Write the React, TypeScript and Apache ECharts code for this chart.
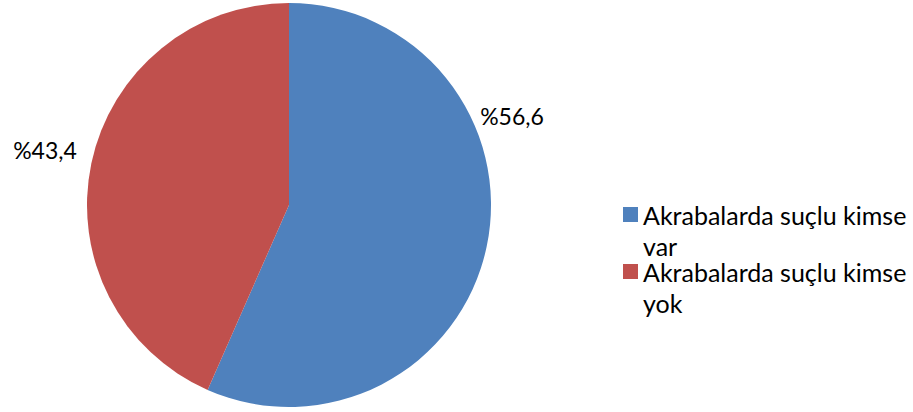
import React, { useEffect, useRef } from "react";
import * as echarts from "echarts";

const categories = ["Akrabalarda suçlu kimse var", "Akrabalarda suçlu kimse yok"];
const values = [56.6, 43.4];
const labelTexts = ["%56,6", "%43,4"];
const colors = ["#4F81BD", "#C0504D"];
const labelPos = [
  { x: 512, y: 116 },
  { x: 45, y: 150 },
];

export default function App() {
  const ref = useRef<HTMLDivElement>(null);
  useEffect(() => {
    document.body.style.margin = "0";
    const chart = echarts.init(ref.current!, null, { renderer: "svg" });
    const font = "Lato, 'Noto Sans', sans-serif";
    const lineStyle = { fontFamily: font, fontSize: 25, color: "#000", lineHeight: 31 };
    chart.setOption({
      animation: false,
      color: colors,
      legend: {
        orient: "vertical",
        left: 623,
        top: 168,
        padding: 0,
        itemWidth: 15,
        itemHeight: 15,
        itemGap: -36,
        icon: "rect",
        data: categories,
        formatter: (name: string) => {
          const i = name.lastIndexOf(" ");
          return "{e| }\n{a|" + name.slice(0, i) + "}\n{a|" + name.slice(i + 1) + "}";
        },
        textStyle: {
          ...lineStyle,
          rich: { e: { ...lineStyle }, a: { ...lineStyle } },
        },
      },
      series: [
        {
          type: "pie",
          center: [289, 205],
          radius: 202,
          startAngle: 90,
          clockwise: true,
          data: categories.map((c, i) => ({ name: c, value: values[i] })),
          label: {
            show: true,
            position: "outside",
            overflow: "none",
            width: 200,
            formatter: (p: any) => labelTexts[p.dataIndex],
            fontFamily: font,
            fontSize: 23,
            color: "#000",
          },
          labelLine: { show: false },
          labelLayout: (p: any) => ({
            x: labelPos[p.dataIndex].x,
            y: labelPos[p.dataIndex].y,
            align: "center",
            verticalAlign: "middle",
          }),
          emphasis: { disabled: true },
        },
      ],
    });
    return () => chart.dispose();
  }, []);
  return <div ref={ref} style={{ width: 913, height: 412 }} />;
}
